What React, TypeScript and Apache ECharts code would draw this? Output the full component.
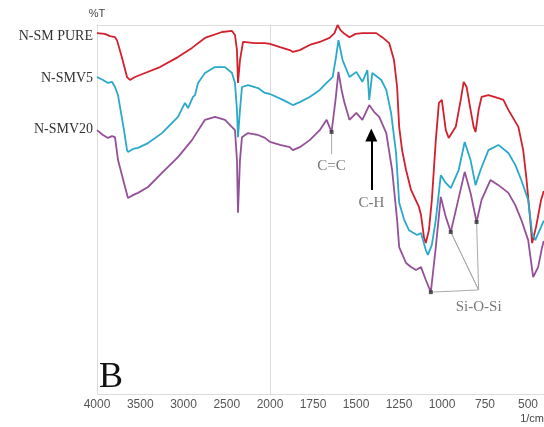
import React, { useEffect, useRef } from "react";
import * as echarts from "echarts";

// [wavenumber (1/cm), %T (relative)]
const pureSpectrum: [number, number][] = [
  [4000, 97.8], [3908, 97.6], [3850, 97.0], [3792, 96.7], [3769, 95.9], [3711, 91.1], [3653, 85.9],
  [3619, 85.1], [3561, 85.9], [3445, 87.0], [3272, 88.6], [3064, 91.3], [2902, 93.8], [2752, 96.5],
  [2555, 98.1], [2439, 98.4], [2405, 97.3], [2382, 93.2], [2370, 84.3], [2347, 90.5], [2312, 95.4],
  [2173, 95.1], [2058, 95.1], [2000, 94.9],
  [1942, 94.0], [1885, 93.2], [1867, 92.7], [1827, 93.2], [1769, 94.6], [1711, 95.4], [1654, 96.5],
  [1625, 97.8], [1607, 100.0], [1590, 98.6], [1567, 97.6], [1538, 96.7], [1503, 97.6], [1463, 97.8],
  [1423, 97.8], [1382, 97.8], [1348, 96.7], [1307, 95.1], [1279, 90.5], [1261, 83.2], [1249, 72.4],
  [1232, 66.1], [1209, 60.7], [1180, 55.3], [1145, 51.8], [1134, 50.7], [1122, 48.5], [1105, 42.5],
  [1094, 40.9], [1076, 44.4], [1059, 52.6], [1036, 68.8], [1018, 78.9], [1001, 79.7], [978, 71.5],
  [961, 69.4], [920, 72.4], [891, 79.7], [874, 84.6], [857, 83.2], [834, 77.0], [816, 72.4],
  [805, 71.0], [787, 77.0], [770, 80.5], [730, 81.0], [672, 80.2], [643, 79.7], [614, 77.0],
  [556, 72.4], [528, 66.1], [510, 58.8], [487, 47.2], [476, 40.9], [453, 45.3], [424, 52.6], [408, 55.0],
];

const smv5Spectrum: [number, number][] = [
  [4000, 85.9], [3931, 85.1], [3873, 84.3], [3827, 84.6], [3792, 83.2], [3757, 81.0], [3734, 77.8],
  [3688, 71.5], [3653, 66.1], [3642, 65.6], [3584, 66.4], [3526, 66.7], [3410, 68.0], [3249, 70.7],
  [3064, 75.1], [2983, 78.9], [2948, 77.5], [2890, 80.5], [2867, 81.0], [2832, 84.3], [2752, 87.0],
  [2636, 88.6], [2520, 88.6], [2439, 87.0], [2405, 84.3], [2382, 77.0], [2370, 69.6], [2347, 77.0],
  [2324, 83.2], [2254, 83.7], [2139, 82.9], [2058, 81.6], [2000, 81.3],
  [1925, 79.7], [1867, 78.3], [1827, 79.1], [1769, 80.5], [1711, 82.4], [1671, 84.3], [1636, 85.9],
  [1619, 90.5], [1602, 95.9], [1590, 93.2], [1578, 90.5], [1538, 85.9], [1498, 87.3], [1463, 84.6],
  [1434, 87.8], [1423, 79.7], [1405, 87.0], [1353, 85.1], [1324, 82.4], [1296, 76.2], [1267, 65.3],
  [1249, 51.8], [1220, 47.2], [1192, 44.4], [1145, 43.1], [1122, 43.6], [1094, 39.0], [1082, 37.7],
  [1059, 40.4], [1036, 47.2], [1007, 59.3], [978, 57.2], [949, 55.8], [903, 60.7], [868, 68.3],
  [834, 63.4], [805, 56.6], [776, 60.7], [730, 66.1], [672, 67.5], [614, 65.3], [574, 62.1],
  [539, 58.0], [499, 52.6], [476, 43.6], [458, 41.7], [424, 45.3], [408, 47.0],
];

const smv20Spectrum: [number, number][] = [
  [4000, 71.5], [3931, 70.2], [3873, 69.4], [3827, 69.9], [3792, 69.6], [3757, 63.4], [3711, 59.3],
  [3676, 56.1], [3642, 53.1], [3584, 53.9], [3526, 54.5], [3410, 56.1], [3249, 59.9], [3064, 64.2],
  [2902, 68.8], [2752, 74.3], [2636, 75.1], [2520, 74.3], [2405, 71.5], [2382, 63.4], [2370, 49.1],
  [2347, 63.4], [2324, 69.6], [2254, 70.7], [2139, 70.2], [2058, 69.4], [2000, 68.3],
  [1942, 67.5], [1885, 66.9], [1867, 66.1], [1827, 66.9], [1769, 68.8], [1711, 71.5], [1671, 74.3],
  [1642, 71.0], [1619, 79.7], [1602, 87.3], [1584, 82.4], [1567, 78.9], [1538, 74.3], [1498, 76.2],
  [1463, 74.3], [1423, 78.3], [1394, 76.4], [1365, 75.1], [1324, 70.7], [1290, 60.7], [1261, 47.2],
  [1249, 39.8], [1209, 35.5], [1180, 34.4], [1151, 33.6], [1122, 34.4], [1094, 30.9], [1065, 27.6],
  [1036, 39.8], [1007, 53.4], [978, 48.0], [949, 43.9], [915, 50.7], [868, 60.2], [834, 54.5],
  [799, 46.6], [770, 52.6], [718, 58.0], [672, 56.6], [614, 54.5], [574, 51.2], [539, 47.2],
  [499, 41.7], [470, 31.7], [441, 34.4], [418, 39.8], [408, 41.5],
];

const seriesNames = ["N-SM PURE", "N-SMV5", "N-SMV20"];
const seriesColors = ["#d2202c", "#2aa9cb", "#95509a"];

const leftTicks = [4000, 3500, 3000, 2500, 2000];
const rightTicks = [1750, 1500, 1250, 1000, 750, 500];

// annotation points (on N-SMV20)
const ccMarker: [number, number] = [1642, 71.0];
const ccLineEnd: [number, number] = [1642, 65.0];
const ccLabel: [number, number] = [1642, 62.1];
const siMarkers: [number, number][] = [[1065, 27.6], [949, 43.9], [799, 46.6]];
const siJoin: [number, number] = [787, 28.2];
const siLabel: [number, number] = [787, 23.8];
const chArrowFrom: [number, number] = [1411, 55.3];
const chArrowTo: [number, number] = [1411, 70.2];
const chLabel: [number, number] = [1411, 52.0];

export default function App() {
  const ref = useRef<HTMLDivElement>(null);
  useEffect(() => {
    if (!ref.current) return;
    const chart = echarts.init(ref.current, null, { renderer: "svg" });
    const spectra = [pureSpectrum, smv5Spectrum, smv20Spectrum];
    const series: any[] = [];
    spectra.forEach((s, i) => {
      series.push({
        type: "line", name: seriesNames[i] + " L", xAxisIndex: 0, yAxisIndex: 0,
        data: s.filter((p) => p[0] >= 2000), symbol: "none",
        lineStyle: { color: seriesColors[i], width: 1.8 }, silent: true,
      });
      series.push({
        type: "line", name: seriesNames[i] + " R", xAxisIndex: 1, yAxisIndex: 1,
        data: s.filter((p) => p[0] <= 2000), symbol: "none",
        lineStyle: { color: seriesColors[i], width: 1.8 }, silent: true,
      });
    });
    const siPath: [number, number][] = [siMarkers[0], siJoin, siMarkers[1], siJoin, siMarkers[2]];
    series.push({
      type: "line", xAxisIndex: 1, yAxisIndex: 1, symbol: "none", silent: true,
      data: siPath, lineStyle: { color: "#aaaaaa", width: 1 },
    });
    series.push({
      type: "line", xAxisIndex: 1, yAxisIndex: 1, symbol: "none", silent: true,
      data: [ccMarker, ccLineEnd],
      lineStyle: { color: "#aaaaaa", width: 1 },
      markLine: {
        silent: true, symbol: ["none", "triangle"], symbolSize: [12, 13],
        lineStyle: { color: "#000", width: 2, type: "solid" }, label: { show: false },
        data: [[{ coord: chArrowFrom }, { coord: chArrowTo }]],
      },
    });
    series.push({
      type: "scatter", xAxisIndex: 1, yAxisIndex: 1, symbol: "rect", symbolSize: 4, silent: true,
      itemStyle: { color: "#333" }, data: [ccMarker, ...siMarkers], z: 5,
    });
    const labelTexts = ["C=C", "C-H", "Si-O-Si"];
    series.push({
      type: "scatter", xAxisIndex: 1, yAxisIndex: 1, symbolSize: 0, silent: true,
      data: [ccLabel, chLabel, siLabel].map((p, i) => ({ value: p, name: labelTexts[i] })),
      label: {
        show: true, position: "inside", formatter: (p: any) => p.name,
        fontFamily: "Liberation Serif", fontSize: 15, color: "#555",
      },
    });
    const axisLabel = {
      color: "#555", fontSize: 12, fontFamily: "Liberation Sans", margin: 4,
      formatter: (v: number) => String(v),
    };
    const frameY = {
      type: "value", min: 0, max: 100, interval: 100,
      axisLabel: { show: false }, axisTick: { show: false },
      axisLine: { show: true, lineStyle: { color: "#dcdcdc", width: 1 } },
      splitLine: { show: true, lineStyle: { color: "#dcdcdc", width: 1 } },
    };
    chart.setOption({
      animation: false,
      grid: [
        { left: 97, top: 25, width: 173, height: 369 },
        { left: 270, top: 25, right: 0, height: 369 },
      ],
      xAxis: [
        {
          type: "value", gridIndex: 0, min: 2000, max: 4000, interval: 500, inverse: true,
          axisLine: { show: false }, axisTick: { show: false }, splitLine: { show: false },
          axisLabel: { ...axisLabel, customValues: leftTicks },
        },
        {
          type: "value", gridIndex: 1, min: 407, max: 2000, inverse: true,
          axisLine: { show: false }, axisTick: { show: false }, splitLine: { show: false },
          axisLabel: { ...axisLabel, customValues: rightTicks },
        },
      ],
      yAxis: [
        { ...frameY, gridIndex: 0 },
        { ...frameY, gridIndex: 1 },
      ],
      graphic: [
        { type: "text", x: 97, y: 13, style: { text: "%T", fontSize: 11, fontFamily: "Liberation Sans", fill: "#444", align: "center", verticalAlign: "middle" } },
        { type: "text", x: 93, y: 35, style: { text: "N-SM PURE", fontSize: 14, fontFamily: "Liberation Serif", fill: "#333", align: "right", verticalAlign: "middle" } },
        { type: "text", x: 93, y: 77, style: { text: "N-SMV5", fontSize: 14, fontFamily: "Liberation Serif", fill: "#333", align: "right", verticalAlign: "middle" } },
        { type: "text", x: 93, y: 128, style: { text: "N-SMV20", fontSize: 14, fontFamily: "Liberation Serif", fill: "#333", align: "right", verticalAlign: "middle" } },
        { type: "text", x: 99, y: 375, style: { text: "B", fontSize: 36, fontFamily: "Liberation Serif", fill: "#111", align: "left", verticalAlign: "middle" } },
        { type: "text", x: 544, y: 418, style: { text: "1/cm", fontSize: 11, fontFamily: "Liberation Sans", fill: "#444", align: "right", verticalAlign: "middle" } },
      ],
      series,
    });
    return () => chart.dispose();
  }, []);
  return <div ref={ref} style={{ position: "fixed", left: 0, top: 0, width: 544, height: 427 }} />;
}
